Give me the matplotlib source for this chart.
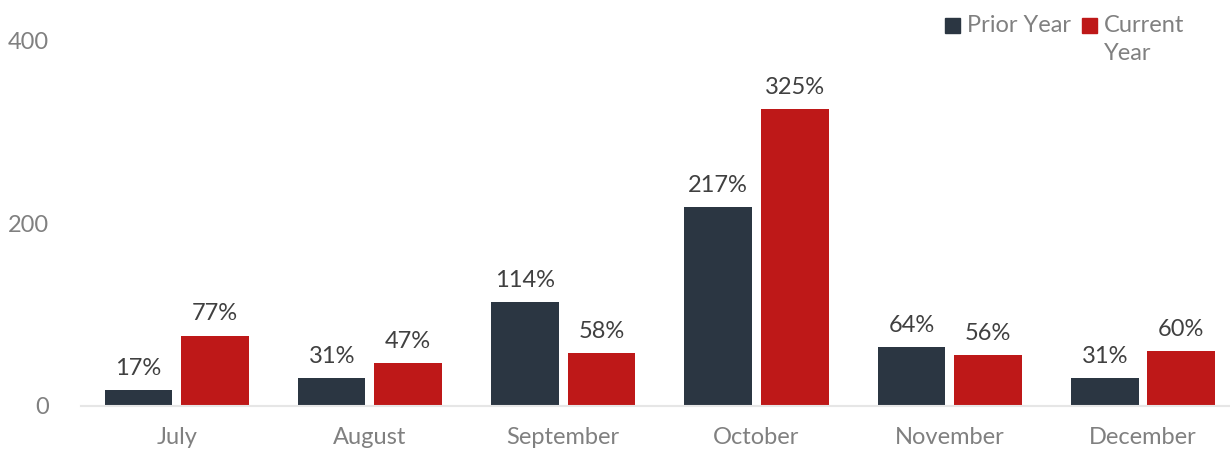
import matplotlib.pyplot as plt
from matplotlib.patches import Rectangle
import numpy as np

plt.rcParams['font.family'] = ['Lato', 'DejaVu Sans']

months = ['July', 'August', 'September', 'October', 'November', 'December']
prior_year = [17, 31, 114, 217, 64, 31]
current_year = [77, 47, 58, 325, 56, 60]
y_ticks = [0, 200, 400]

navy = '#2B3642'
red = '#BE1818'
grey = '#808080'
dark = '#404040'

W, H = 1230, 449
fig = plt.figure(figsize=(W / 100, H / 100), dpi=100)
ax = fig.add_axes([81 / W, 43 / H, (1230 - 81) / W, (406 - 40) / H])

x = np.arange(len(months))
w = 0.35
b1 = ax.bar(x - 0.198, prior_year, w, color=navy)
b2 = ax.bar(x + 0.198, current_year, w, color=red)

for bars in (b1, b2):
    ax.bar_label(bars, labels=[f'{v}%' for v in bars.datavalues],
                 padding=8, fontsize=17, color=dark)

ax.set_xlim(-0.495, 5.45)
ax.set_ylim(0, 400)
ax.set_yticks(y_ticks)
ax.set_xticks(x)
ax.set_xticklabels(months)
ax.tick_params(axis='both', length=0, labelsize=17, labelcolor=grey)
ax.tick_params(axis='x', pad=15)
ax.tick_params(axis='y', pad=23)

for s in ['top', 'right', 'left']:
    ax.spines[s].set_visible(False)
ax.spines['bottom'].set_color('#E6E6E6')
ax.spines['bottom'].set_linewidth(1.5)

# legend drawn by hand so "Current Year" wraps like the original
sq = 15
fig.patches.append(Rectangle((945 / W, 1 - 33 / H), sq / W, sq / H,
                             transform=fig.transFigure, color=navy))
fig.text(967 / W, 1 - 26 / H, 'Prior Year', fontsize=17, color=grey, va='center')
fig.patches.append(Rectangle((1082 / W, 1 - 33 / H), sq / W, sq / H,
                             transform=fig.transFigure, color=red))
fig.text(1104 / W, 1 - 26 / H, 'Current', fontsize=17, color=grey, va='center')
fig.text(1104 / W, 1 - 54 / H, 'Year', fontsize=17, color=grey, va='center')

fig.savefig('out.png', dpi=100)
